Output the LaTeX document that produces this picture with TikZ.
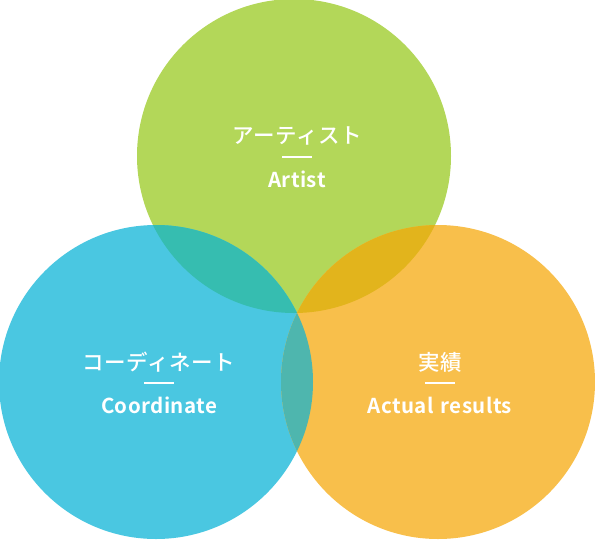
\documentclass[tikz,border=0pt]{standalone}
\usepackage{fontspec}
\setmainfont{Noto Sans CJK JP}[BoldFont={Noto Sans CJK JP Bold}]
\newfontfamily\jpmed{Noto Sans CJK JP Medium}
\definecolor{cgreen}{HTML}{B3D759}
\definecolor{cblue}{HTML}{4AC7E1}
\definecolor{corange}{HTML}{F8BF4B}
\definecolor{cgb}{HTML}{36BDB0}
\definecolor{cgo}{HTML}{E2B41C}
\definecolor{cbo}{HTML}{4EB6AE}
\tikzset{
  jp/.style={text=white, font=\jpmed\fontsize{21.5}{24}\selectfont\addfontfeatures{LetterSpace=3}, inner sep=0pt},
  en/.style={text=white, font=\bfseries\fontsize{20.5}{24}\selectfont\addfontfeatures{LetterSpace=2}, inner sep=0pt},
  bar/.style={white, line width=2pt}
}
\begin{document}
\begin{tikzpicture}[x=1pt,y=-1pt]
\useasboundingbox (0,0) rectangle (595,539);
\coordinate (G) at (294,156);
\coordinate (B) at (156,382);
\coordinate (O) at (438,382);
\def\R{157}
\fill[cgreen] (G) circle (\R);
\fill[cblue] (B) circle (\R);
\fill[corange] (O) circle (\R);
\begin{scope}
  \clip (G) circle (\R);
  \fill[cgb] (B) circle (\R);
\end{scope}
\begin{scope}
  \clip (G) circle (\R);
  \fill[cgo] (O) circle (\R);
\end{scope}
\begin{scope}
  \clip (B) circle (\R);
  \fill[cbo] (O) circle (\R);
\end{scope}
% texts
\node[jp] (gj) at (297,136) {アーティスト};
\coordinate (gl1) at (282,157); \coordinate (gl2) at (312,157);
\draw[bar] (gl1) -- (gl2);
\node[en] (ge) at (297,179) {Artist};
\node[jp] (bj) at (159,362) {コーディネート};
\coordinate (bl1) at (144,383); \coordinate (bl2) at (174,383);
\draw[bar] (bl1) -- (bl2);
\node[en] (be) at (159,405) {Coordinate};
\node[jp] (oj) at (440,362) {実績};
\coordinate (ol1) at (425,383); \coordinate (ol2) at (455,383);
\draw[bar] (ol1) -- (ol2);
\node[en] (oe) at (440,405) {Actual\hspace{7pt}results};
\end{tikzpicture}
\end{document}
